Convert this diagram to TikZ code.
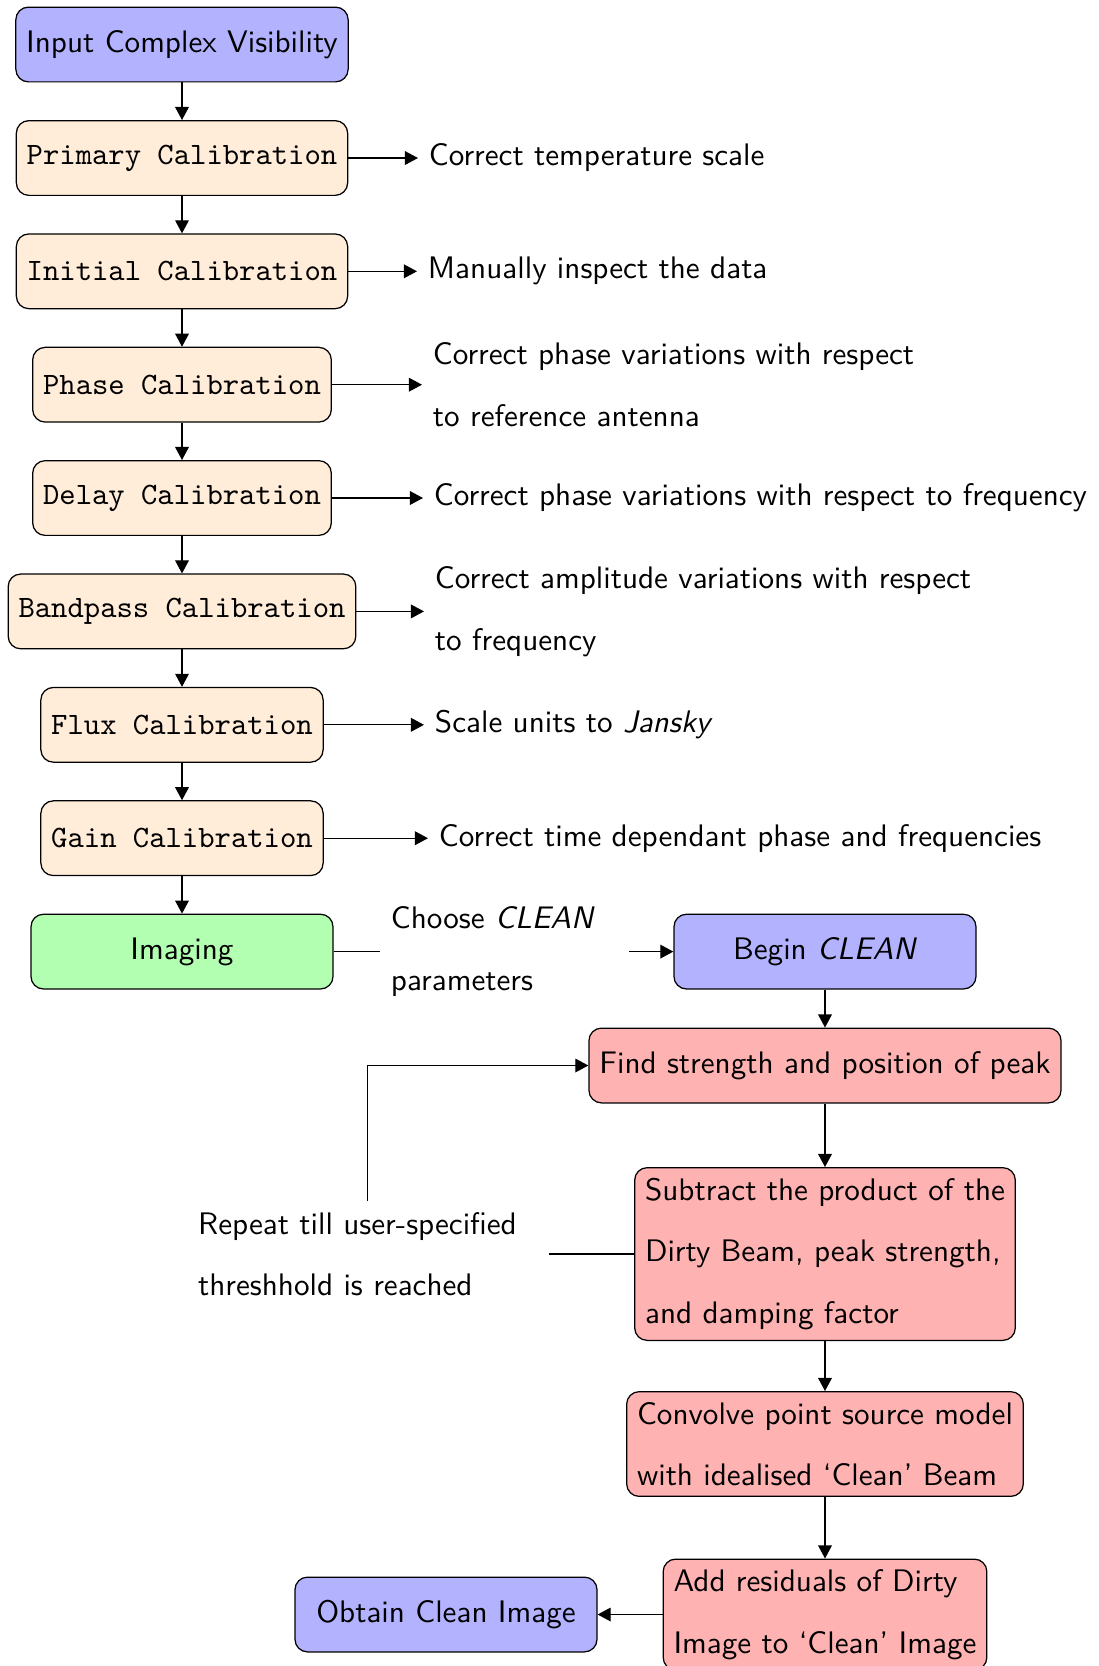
\documentclass[tikz,border=0pt]{standalone}
\usetikzlibrary{arrows.meta}
\definecolor{peach}{RGB}{255,236,217}
\begin{document}
\begin{tikzpicture}[x=0.3212pt,y=-0.3212pt,
  >={Triangle[length=4.2pt,width=4.4pt]},
  base/.style={draw=black, line width=0.4pt, rounded corners=4pt, inner sep=3.33pt, minimum height=24pt, font=\sffamily\fontsize{10}{19.8}\selectfont, align=center},
  bluebox/.style={base, fill=blue!30, minimum width=97pt},
  greenbox/.style={base, fill=green!30, minimum width=97pt},
  calbox/.style={base, fill=peach, font=\ttfamily\fontsize{10}{19.8}\selectfont},
  pinkbox/.style={base, fill=red!30, align=left},
  note/.style={inner sep=3.33pt, font=\sffamily\fontsize{10}{19.8}\selectfont, align=left, anchor=west},
  conn/.style={draw=black, line width=0.4pt}
]
\useasboundingbox (0,0) rectangle (1099,1666);

% left column
\node[bluebox] (input) at (182,44.5) {Input Complex Visibility};
\node[calbox] (primary) at (182,158) {Primary Calibration};
\node[calbox] (initial) at (182,271.3) {Initial Calibration};
\node[calbox] (phase) at (182,384.7) {Phase Calibration};
\node[calbox] (delay) at (182,498) {Delay Calibration};
\node[calbox] (bandpass) at (182,611.4) {Bandpass Calibration};
\node[calbox] (flux) at (182,724.8) {Flux Calibration};
\node[calbox] (gain) at (182,838.2) {Gain Calibration};
\node[greenbox] (imaging) at (182,951.6) {Imaging};

% notes
\node[note] (t1) at (418,158) {Correct temperature scale};
\node[note] (t2) at (417,271.3) {Manually inspect the data};
\node[note] (t3) at (422,384.7) {Correct phase variations with respect\\to reference antenna};
\node[note] (t4) at (423,498) {Correct phase variations with respect to frequency};
\node[note] (t5) at (424,611.4) {Correct amplitude variations with respect\\to frequency};
\node[note] (t6) at (424,724.8) {Scale units to \textit{Jansky}};
\node[note] (t7) at (428,838.2) {Correct time dependant phase and frequencies};

% CLEAN part
\node[note, text width=73pt] (choose) at (380,951.6) {Choose \textit{CLEAN}\\parameters};
\node[bluebox] (begin) at (825,951.6) {Begin \textit{CLEAN}};
\node[pinkbox] (find) at (825,1065.5) {Find strength and position of peak};
\node[pinkbox] (subtract) at (825,1254) {Subtract the product of the\\Dirty Beam, peak strength,\\and damping factor};
\node[pinkbox] (convolve) at (825,1444) {Convolve point source model\\with idealised ‘Clean’ Beam};
\node[pinkbox] (add) at (825,1614.5) {Add residuals of Dirty\\Image to ‘Clean’ Image};
\node[bluebox] (obtain) at (446,1614.5) {Obtain Clean Image};
\node[note, anchor=east, text width=109pt] (repeat) at (548.5,1254) {Repeat till user-specified\\threshhold is reached};

% connectors
\draw[conn,->] (input) -- (primary);
\draw[conn,->] (primary) -- (initial);
\draw[conn,->] (initial) -- (phase);
\draw[conn,->] (phase) -- (delay);
\draw[conn,->] (delay) -- (bandpass);
\draw[conn,->] (bandpass) -- (flux);
\draw[conn,->] (flux) -- (gain);
\draw[conn,->] (gain) -- (imaging);

\draw[conn,->] (primary.east) -- (t1.west);
\draw[conn,->] (initial.east) -- (t2.west);
\draw[conn,->] (phase.east) -- (t3.west);
\draw[conn,->] (delay.east) -- (t4.west);
\draw[conn,->] (bandpass.east) -- (t5.west);
\draw[conn,->] (flux.east) -- (t6.west);
\draw[conn,->] (gain.east) -- (t7.west);

\draw[conn] (imaging.east) -- (choose.west);
\draw[conn,->] (choose.east) -- (begin.west);
\draw[conn,->] (begin) -- (find);
\draw[conn,->] (find) -- (subtract);
\draw[conn,->] (subtract) -- (convolve);
\draw[conn,->] (convolve) -- (add);
\draw[conn,->] (add.west) -- (obtain.east);
\draw[conn] (subtract.west) -- (repeat.east);
\draw[conn,->] (repeat.north) |- (find.west);
\end{tikzpicture}
\end{document}
